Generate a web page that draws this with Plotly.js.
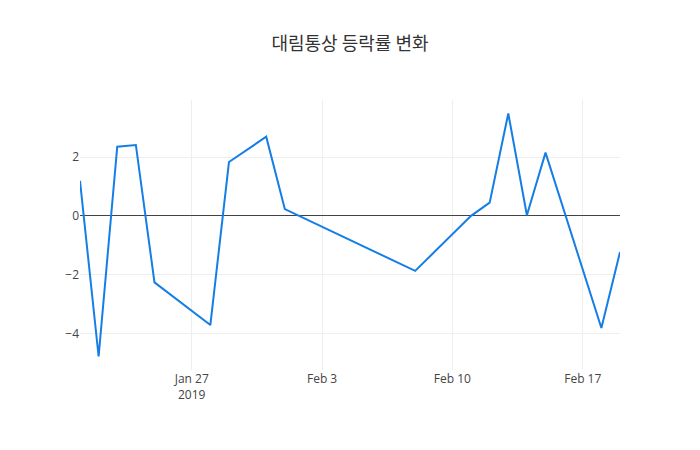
<!DOCTYPE html>
<html>
<head>
<meta charset="utf-8">
<script src="https://cdn.plot.ly/plotly-3.0.1.min.js"></script>
<style>html,body{margin:0;padding:0;background:#fff;}#chart{width:700px;height:450px;}</style>
</head>
<body>
<div id="chart"></div>
<script>
const dates = ["2019-01-21","2019-01-22","2019-01-23","2019-01-24","2019-01-25","2019-01-28","2019-01-29","2019-01-31","2019-02-01","2019-02-08","2019-02-11","2019-02-12","2019-02-13","2019-02-14","2019-02-15","2019-02-18","2019-02-19"];
const changeRates = [1.19,-4.78,2.35,2.41,-2.26,-3.71,1.83,2.69,0.23,-1.87,0.0,0.45,3.48,0.02,2.15,-3.81,-1.23];
const chartTitle = "대림통상 등락률 변화";

const trace = {
  x: dates,
  y: changeRates,
  type: "scatter",
  mode: "lines",
  line: {color: "#157ee6", width: 2}
};
const layout = {
  width: 700, height: 450,
  title: {text: chartTitle, font: {family: "Noto Sans CJK KR, Open Sans, sans-serif", size: 18, color: "#333"}},
  font: {family: "Open Sans, sans-serif", size: 12, color: "#444"},
  margin: {l: 80, r: 80, t: 100, b: 80},
  paper_bgcolor: "#fff", plot_bgcolor: "#fff",
  showlegend: false,
  xaxis: {type: "date", showgrid: true, gridcolor: "#eee", ticks: "", zeroline: false, showline: false},
  yaxis: {showgrid: true, gridcolor: "#eee", zeroline: true, zerolinecolor: "#444", zerolinewidth: 1, ticks: "", showline: false}
};
Plotly.newPlot("chart", [trace], layout, {displayModeBar: false});
</script>
</body>
</html>
